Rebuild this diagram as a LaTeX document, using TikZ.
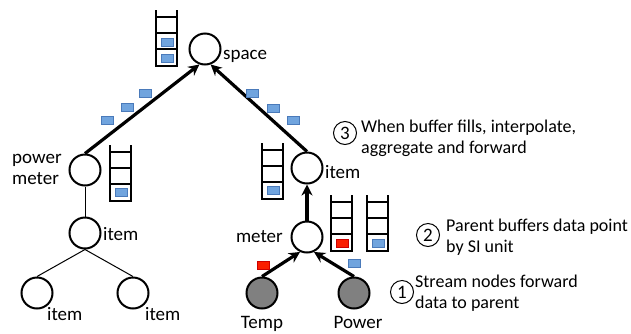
\documentclass[tikz,border=0pt]{standalone}
\usepackage{fontspec}
\setmainfont{Carlito}
\usetikzlibrary{arrows.meta}

\definecolor{boxblue}{RGB}{112,164,222}
\definecolor{boxedge}{RGB}{74,122,186}
\definecolor{boxred}{RGB}{250,30,0}

\tikzset{
  vertex/.style={draw,circle,line width=2pt,minimum size=31pt,inner sep=0pt},
  stream/.style={vertex,fill=black!50},
  lbl/.style={font=\fontsize{19}{21}\selectfont,inner sep=0pt},
  note/.style={font=\fontsize{18}{21}\selectfont,inner sep=0pt,align=left},
  num/.style={draw,circle,line width=1pt,minimum size=23pt,inner sep=0pt,font=\fontsize{19}{21}\selectfont},
  send/.style={-{Stealth[length=11pt,width=11pt]},line width=3.2pt},
  link/.style={line width=1pt},
  datab/.style={draw=boxedge,fill=boxblue,line width=0.7pt,minimum width=12pt,minimum height=8pt,inner sep=0pt},
  datar/.style={datab,draw=red!80!black,fill=boxred},
  ladder/.pic={
    \draw[line width=2.2pt] (0,0) -- (0,56) -- (21,56) -- (21,0);
    \foreach \r in {7,23,39} \draw[line width=2.2pt] (0,\r) -- (21,\r);
  }
}

\begin{document}
\begin{tikzpicture}[x=1pt,y=-1pt]
  \useasboundingbox (0,0) rectangle (631,333);

  % tree on the left
  \node[vertex] (space) at (205,49) {};
  \node[lbl,anchor=base west] (spacet) at (223,59) {space};
  \node[vertex] (pm) at (85,170) {};
  \node[lbl,align=left,anchor=west] (pmt) at (12,169) {power\\meter};
  \node[vertex] (iteml) at (85,233) {};
  \node[lbl,anchor=base west] (itemlt) at (103,240) {item};
  \node[vertex] (itemll) at (37,293) {};
  \node[vertex] (itemlr) at (133,293) {};
  \node[lbl,anchor=base west] (itemllt) at (47,320) {item};
  \node[lbl,anchor=base west] (itemlrt) at (145,320) {item};

  % tree on the right
  \node[vertex] (itemr) at (307,168) {};
  \node[lbl,anchor=base west] (itemrt) at (325,178) {item};
  \node[vertex] (meter) at (307,237) {};
  \node[lbl,anchor=base east] (metert) at (283,242) {meter};
  \node[stream] (temp) at (262,293) {};
  \node[stream] (power) at (354,293) {};
  \node[lbl,anchor=base] (tempt) at (262,328) {Temp};
  \node[lbl,anchor=base] (powert) at (358,328) {Power};

  \draw[send] (pm.north) -- (space.250);
  \draw[send] (itemr.north) -- (space.290);
  \draw[send] (meter.north) -- (itemr.south);
  \draw[send] (temp.north) -- (meter.245);
  \draw[send] (power.north) -- (meter.295);
  \draw[link] (pm) -- (iteml);
  \draw[link] (iteml.south) -- (itemll.north);
  \draw[link] (iteml.south) -- (itemlr.north);

  % buffers
  \pic at (156,10) {ladder};
  \pic at (110,145) {ladder};
  \pic at (262,143) {ladder};
  \pic at (331,195) {ladder};
  \pic at (367,195) {ladder};

  % data points
  \node[datab] (s1) at (167,42) {};
  \node[datab] (s2) at (167,58) {};
  \node[datab] (p1) at (121,192) {};
  \node[datab] (r1) at (273,190) {};
  \node[datar] (m1) at (342,243) {};
  \node[datab] (m2) at (378,243) {};
  \node[datab] (a1) at (107,120) {};
  \node[datab] (a2) at (127,107) {};
  \node[datab] (a3) at (145,93) {};
  \node[datab] (b1) at (252,93) {};
  \node[datab] (b2) at (273,108) {};
  \node[datab] (b3) at (293,120) {};
  \node[datar] (c1) at (263,265) {};
  \node[datab] (c2) at (354,263) {};

  % steps
  \node[num] (n3) at (345,133) {3};
  \node[note,anchor=west] (t3) at (361,138) {When buffer fills, interpolate,\\aggregate and forward};
  \node[num] (n2) at (428,235) {2};
  \node[note,anchor=west] (t2) at (446,237) {Parent buffers data point\\by SI unit};
  \node[num] (n1) at (402,292) {1};
  \node[note,anchor=west] (t1) at (415,293) {Stream nodes forward\\data to parent};
\end{tikzpicture}
\end{document}
